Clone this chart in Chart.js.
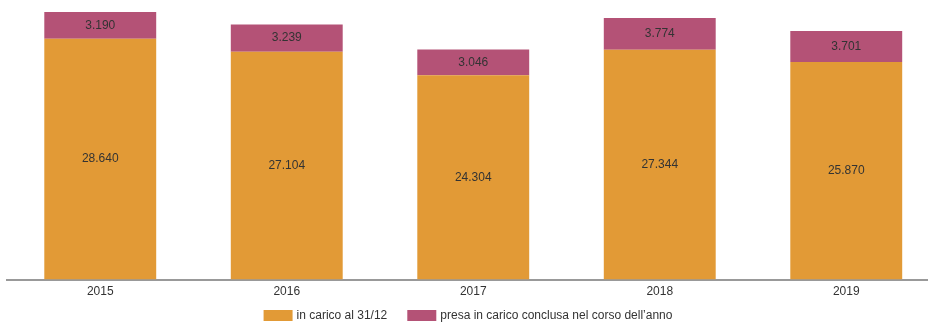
<!DOCTYPE html>
<html>
<head>
<meta charset="utf-8">
<script src="https://cdn.jsdelivr.net/npm/chart.js@4.4.0/dist/chart.umd.min.js"></script>
<style>
  html, body { margin: 0; padding: 0; background: #fff; overflow: hidden; }
  #wrap { position: absolute; left: 0; top: 0; }
</style>
</head>
<body>
<div id="wrap"><canvas id="chart" width="940" height="322"></canvas></div>
<script>
// years on the x axis
const years = ['2015', '2016', '2017', '2018', '2019'];
// cases still open at 31/12
const inCarico = [28640, 27104, 24304, 27344, 25870];
// cases taken in and closed within the year
const conclusa = [3190, 3239, 3046, 3774, 3701];

const fontFamily = '"Liberation Sans", Arial, sans-serif';
const labelFont = '12px ' + fontFamily;

// writes each segment's value in the middle of the bar piece
const valueLabels = {
  id: 'valueLabels',
  afterDatasetsDraw(chart) {
    const ctx = chart.ctx;
    ctx.save();
    ctx.font = labelFont;
    ctx.fillStyle = '#333';
    ctx.textAlign = 'center';
    ctx.textBaseline = 'middle';
    chart.data.datasets.forEach((ds, i) => {
      chart.getDatasetMeta(i).data.forEach((bar, j) => {
        const txt = ds.data[j].toLocaleString('it-IT');
        ctx.fillText(txt, bar.x, (bar.y + bar.base) / 2);
      });
    });
    ctx.restore();
  }
};

// legend row under the axis, drawn by hand so the spacing stays tight
const bottomLegend = {
  id: 'bottomLegend',
  afterDraw(chart) {
    const ctx = chart.ctx;
    const boxW = 29, boxH = 11, textGap = 4, itemGap = 20;
    const y = 310;
    ctx.save();
    ctx.font = labelFont;
    const items = chart.data.datasets.map(ds => ({
      text: ds.label,
      color: ds.backgroundColor,
      w: boxW + textGap + ctx.measureText(ds.label).width
    }));
    const total = items.reduce((s, it) => s + it.w, 0) + itemGap * (items.length - 1);
    let x = 468 - total / 2;
    items.forEach(it => {
      ctx.fillStyle = it.color;
      ctx.fillRect(x, y, boxW, boxH);
      ctx.fillStyle = '#333';
      ctx.textBaseline = 'middle';
      ctx.fillText(it.text, x + boxW + textGap, y + boxH / 2 + 0.5);
      x += it.w + itemGap;
    });
    ctx.restore();
  }
};

const ctx = document.getElementById('chart').getContext('2d');
new Chart(ctx, {
  type: 'bar',
  data: {
    labels: years,
    datasets: [
      { label: 'in carico al 31/12', data: inCarico, backgroundColor: '#e29a36' },
      { label: 'presa in carico conclusa nel corso dell\u2019anno', data: conclusa, backgroundColor: '#b45276' }
    ]
  },
  options: {
    responsive: false,
    animation: false,
    layout: { padding: { left: 7, right: 0.5, top: 10.5, bottom: 26 } },
    datasets: { bar: { categoryPercentage: 1, barPercentage: 0.6 } },
    scales: {
      x: {
        stacked: true,
        grid: { display: false },
        border: { display: true, color: '#999', width: 2 },
        ticks: { color: '#333', font: { family: fontFamily, size: 12 }, padding: -3 }
      },
      y: {
        stacked: true,
        display: false,
        min: 0,
        max: 32000
      }
    },
    plugins: {
      tooltip: { enabled: false },
      legend: { display: false }
    }
  },
  plugins: [valueLabels, bottomLegend]
});
</script>
</body>
</html>
